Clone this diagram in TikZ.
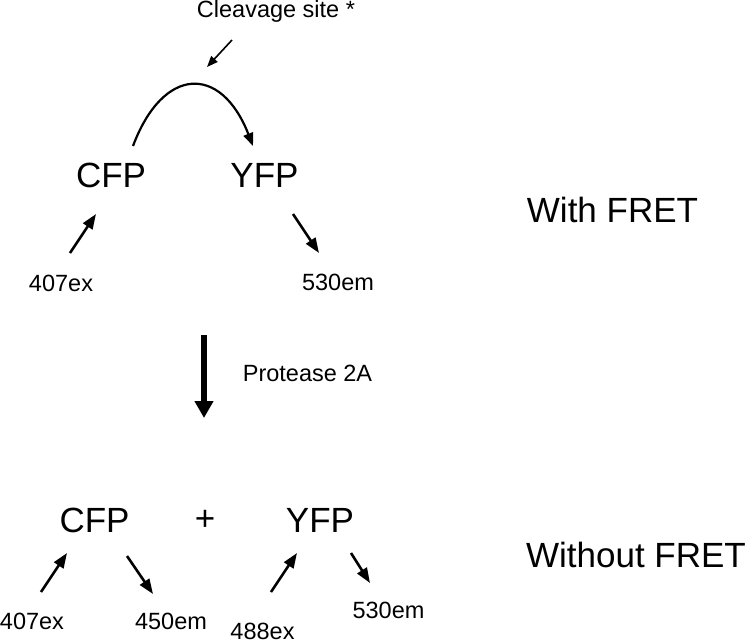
\documentclass[tikz,border=0pt]{standalone}
\usepackage{fontspec}
\setmainfont{Liberation Sans}
\usetikzlibrary{arrows.meta}
\begin{document}
\begin{tikzpicture}[x=1pt,y=-1pt,
  small/.style={font=\fontsize{23.5}{28}\selectfont, inner sep=0pt, anchor=base},
  big/.style={font=\fontsize{35}{42}\selectfont, inner sep=0pt, anchor=base},
  thinarrow/.style={line width=2.6pt, -{Triangle[length=15pt,width=11pt]}},
  fine/.style={line width=1.6pt, -{Triangle[length=11pt,width=8.5pt]}},
  arc/.style={line width=2.2pt, -{Triangle[length=13pt,width=10pt]}},
  thick/.style={line width=6pt, -{Triangle[length=17pt,width=18pt]}}]
\useasboundingbox (0,0) rectangle (750,642);
% texts top
\node[small] (cleave) at (276,18) {Cleavage site *};
\node[big] (cfp1) at (111,187) {CFP};
\node[big] (yfp1) at (264.5,187) {YFP};
\node[big] (with) at (612.5,222) {With FRET};
\node[small] (ex1) at (61,291) {407ex};
\node[small] (em1) at (338,290) {530em};
% middle
\node[small] (prot) at (307.5,381) {Protease 2A};
% bottom
\node[big] (cfp2) at (94.5,532) {CFP};
\node[big] (plus) at (205,530) {+};
\node[big] (yfp2) at (320,532) {YFP};
\node[big] (without) at (636,567) {Without FRET};
\node[small] (ex2) at (32,629) {407ex};
\node[small] (em2) at (171,629) {450em};
\node[small] (ex3) at (262.5,639.5) {488ex};
\node[small] (em3) at (388.5,618) {530em};
% coordinates
\coordinate (c1s) at (232,40);  \coordinate (c1e) at (207,67);
\coordinate (as) at (133,146);  \coordinate (ae) at (253,146);
\coordinate (e1s) at (70,253);  \coordinate (e1e) at (96,214);
\coordinate (m1s) at (293,214); \coordinate (m1e) at (319,253);
\coordinate (ps) at (204,335);  \coordinate (pe) at (204,418);
\coordinate (e2s) at (41,592);  \coordinate (e2e) at (67,553);
\coordinate (m2s) at (127,556); \coordinate (m2e) at (153,594);
\coordinate (e3s) at (271,592); \coordinate (e3e) at (297,553);
\coordinate (m3s) at (351,553); \coordinate (m3e) at (370,583);
% arrows
\draw[fine] (c1s) -- (c1e);
\draw[arc] (as) .. controls (163,66) and (221,64) .. (ae);
\draw[thinarrow] (e1s) -- (e1e);
\draw[thinarrow] (m1s) -- (m1e);
\draw[thick] (ps) -- (pe);
\draw[thinarrow] (e2s) -- (e2e);
\draw[thinarrow] (m2s) -- (m2e);
\draw[thinarrow] (e3s) -- (e3e);
\draw[thinarrow] (m3s) -- (m3e);
\end{tikzpicture}
\end{document}
